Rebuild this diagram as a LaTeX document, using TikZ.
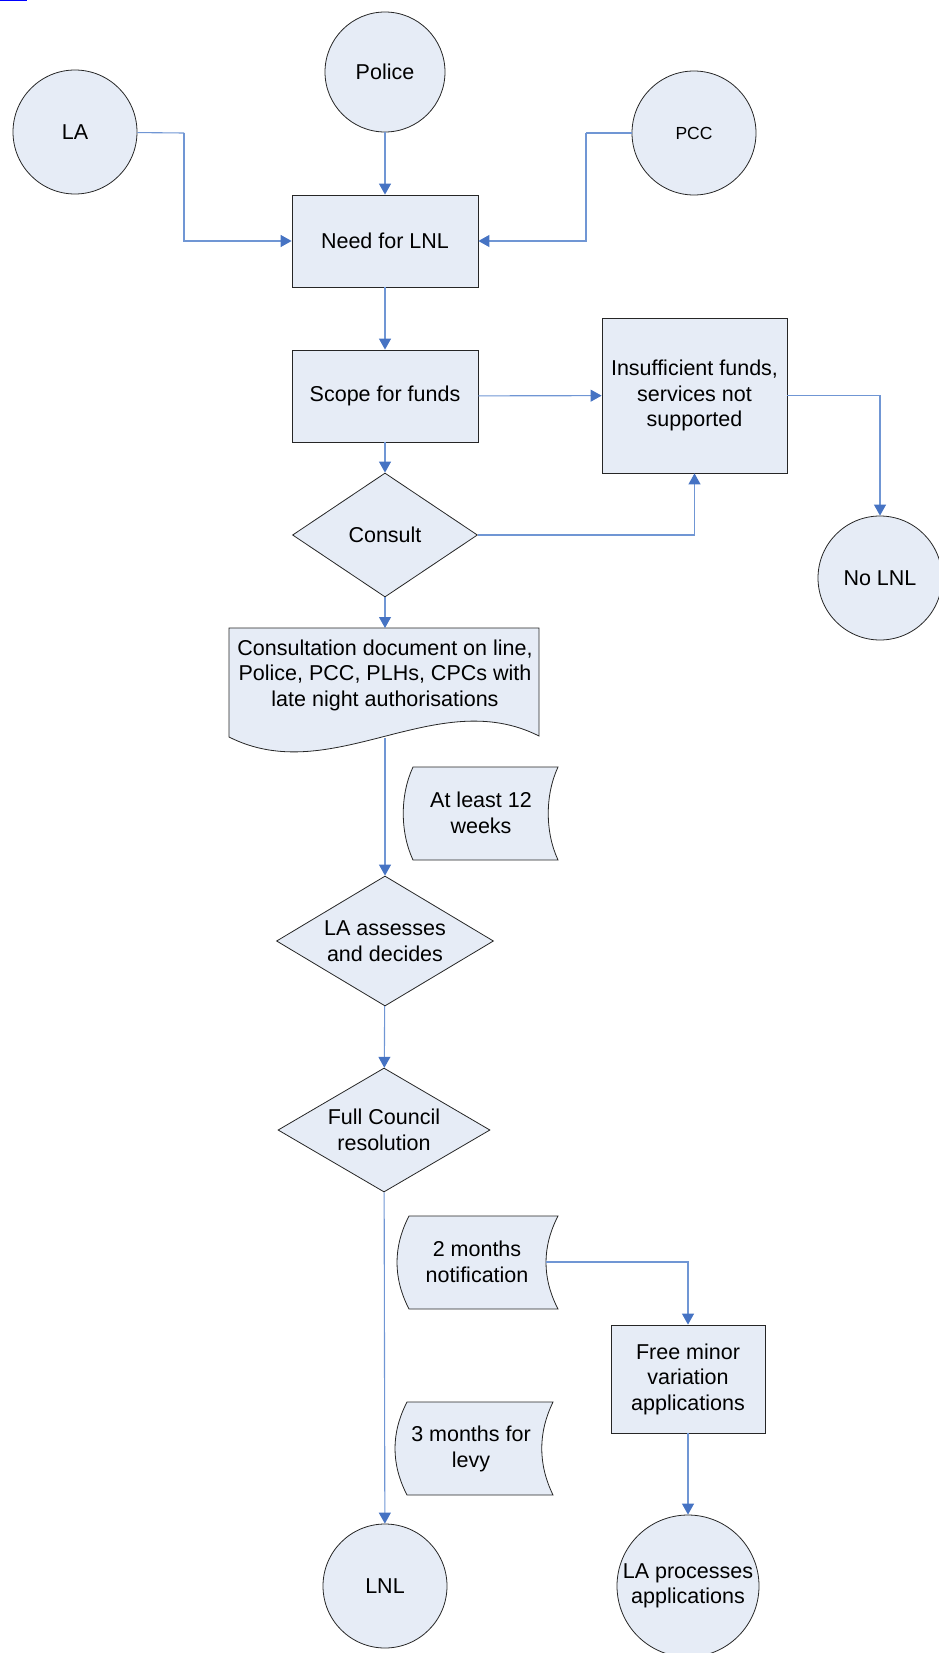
\documentclass[tikz,border=0pt]{standalone}
\usepackage{fontspec}
\setmainfont{Liberation Sans}
\usetikzlibrary{arrows.meta,shapes.geometric}
\definecolor{fillc}{RGB}{230,236,246}
\definecolor{linec}{RGB}{112,150,212}
\definecolor{tipc}{RGB}{70,115,195}
\newcommand\fsz{\fontsize{21.5}{25.5}\selectfont}
\newcommand\fszs{\fontsize{17.5}{20}\selectfont}
\tikzset{
  shapebox/.style={draw=black!85, line width=0.8pt, fill=fillc, font=\fsz, align=center, inner sep=0pt},
  circ/.style={shapebox, circle, minimum size=#1},
  proc/.style={shapebox, rectangle},
  dec/.style={shapebox, diamond, aspect=1.67},
  outline/.style={draw=black!85, line width=0.8pt, fill=fillc},
  lbl/.style={font=\fsz, align=center, inner sep=0pt},
  conn/.style={draw=linec, line width=1.1pt, -{Triangle[width=12pt,length=11pt,color=tipc]}},
  plain/.style={draw=linec, line width=1.1pt}
}
\begin{document}
\begin{tikzpicture}[x=1pt,y=-1pt]
\useasboundingbox (0,0) rectangle (938,1653);
\fill[blue] (0,0) rectangle (27,1.5);

% circles
\node[circ=124pt] (la) at (75,132) {LA};
\node[circ=120pt] (police) at (385,72) {Police};
\node[circ=124pt, font=\fszs] (pcc) at (694,133) {PCC};
\node[circ=124pt] (nolnl) at (880,578) {No LNL};
\node[circ=124pt] (lnl) at (385,1586) {LNL};
\node[circ=142pt] (laproc) at (688,1586) {LA processes\\applications};

% process boxes
\node[proc, minimum width=186pt, minimum height=92pt] (need) at (385,241) {Need for LNL};
\node[proc, minimum width=186pt, minimum height=92pt] (scope) at (385,396) {Scope for funds};
\node[proc, minimum width=185pt, minimum height=155pt] (insuf) at (694.5,395.5) {Insufficient funds,\\services not\\supported};
\node[proc, minimum width=154pt, minimum height=108pt] (free) at (688,1379) {Free minor\\variation\\applications};

% decisions
\node[dec, minimum width=185pt, minimum height=124pt] (consult) at (385,535) {Consult};
\node[dec, minimum width=217pt, minimum height=130pt] (assess) at (385,941) {LA assesses\\and decides};
\node[dec, minimum width=212pt, minimum height=124pt] (council) at (384,1130) {Full Council\\resolution};

% document shape
\path[outline] (229,628) -- (539,628) -- (539,736)
  .. controls (436,684) and (332,789) .. (229,737) -- cycle;
\node[lbl] (doc) at (385,675) {Consultation document on line,\\Police, PCC, PLHs, CPCs with\\late night authorisations};
\coordinate (docb) at (385,738);
\coordinate (doct) at (385,628);

% stored data shapes
\path[outline] (413,767) -- (558,767) .. controls (545,795) and (545,832) .. (558,860)
  -- (413,860) .. controls (400,832) and (400,795) .. (413,767) -- cycle;
\node[lbl] (weeks) at (481,813) {At least 12\\weeks};

\path[outline] (409,1216) -- (558,1216) .. controls (542,1247) and (542,1278) .. (558,1309)
  -- (409,1309) .. controls (393,1278) and (393,1247) .. (409,1216) -- cycle;
\node[lbl] (twom) at (477,1262) {2 months\\notification};
\coordinate (twomr) at (546,1262);

\path[outline] (407,1402) -- (553,1402) .. controls (538,1433) and (538,1464) .. (553,1495)
  -- (407,1495) .. controls (391,1464) and (391,1433) .. (407,1402) -- cycle;
\node[lbl] (threem) at (471,1449) {3 months for\\levy};

% connectors
\coordinate (b1) at (184,133);
\coordinate (b2) at (586,133);
\draw[conn] (police) -- (need);
\draw[plain] (la) -- (b1);
\draw[conn] (b1) |- (need);
\draw[plain] (pcc) -- (b2);
\draw[conn] (b2) |- (need);
\draw[conn] (need) -- (scope);
\draw[conn] (scope) -- (insuf);
\draw[conn] (scope) -- (consult);
\draw[conn] (consult.east) -| (insuf.south);
\draw[conn] (insuf.east) -| (nolnl.north);
\draw[conn] (consult) -- (doct);
\draw[conn] (docb) -- (assess.north);
\draw[conn] (assess) -- (council);
\draw[conn] (council) -- (lnl);
\draw[conn] (twomr) -| (free.north);
\draw[conn] (free) -- (laproc);
\end{tikzpicture}
\end{document}
